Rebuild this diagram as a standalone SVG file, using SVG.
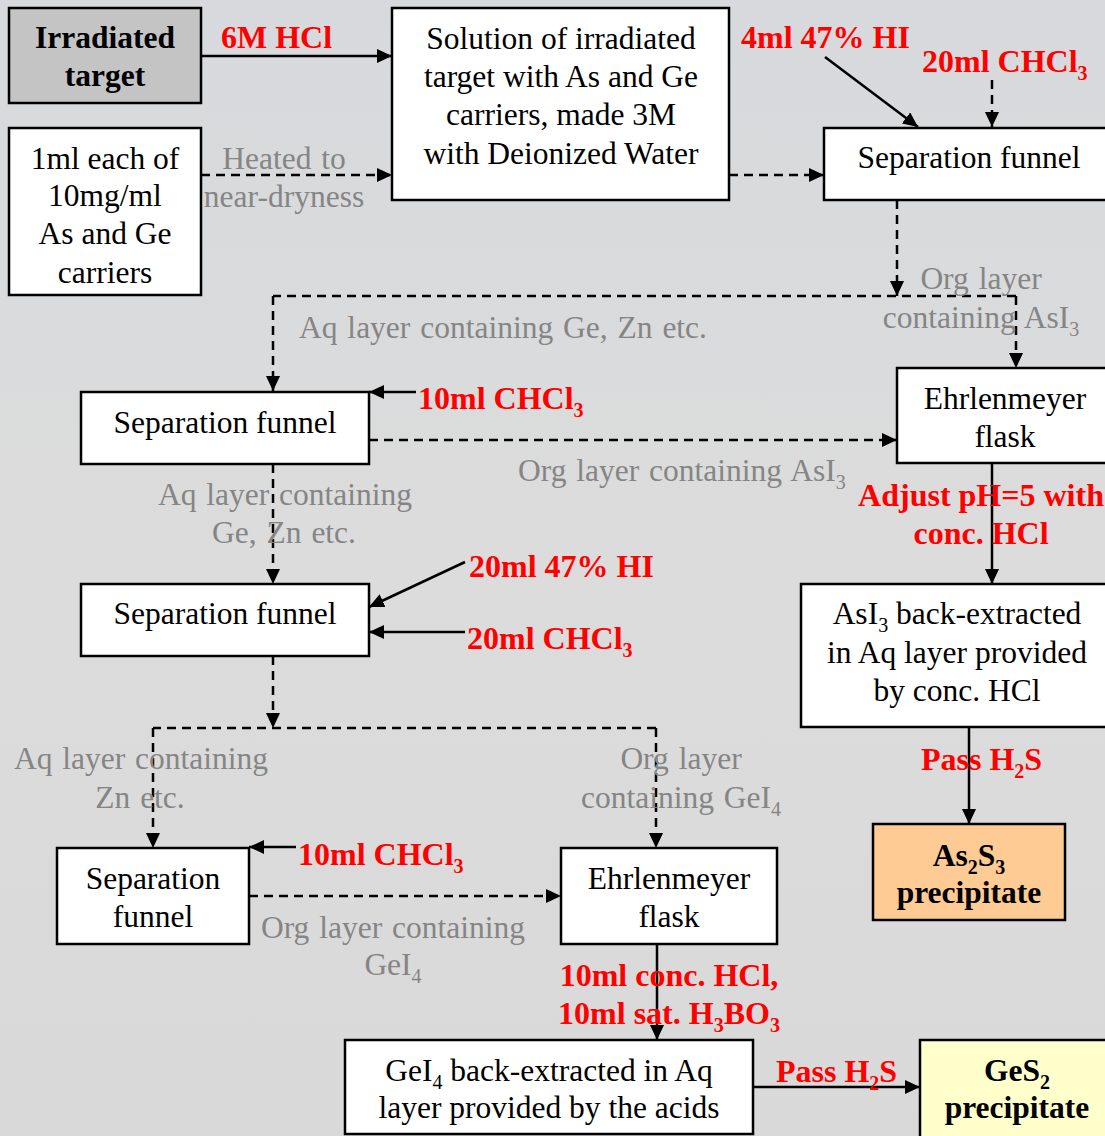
<svg xmlns="http://www.w3.org/2000/svg" width="1105" height="1136" viewBox="0 0 1105 1136">
<defs>
<linearGradient id="bg" x1="0" y1="0" x2="0" y2="1">
<stop offset="0" stop-color="#d7d9dc"/>
<stop offset="0.5" stop-color="#dcdcdc"/>
<stop offset="1" stop-color="#d9d9d9"/>
</linearGradient>
<marker id="ah" markerUnits="userSpaceOnUse" markerWidth="15" markerHeight="14" refX="15" refY="7" orient="auto">
<path d="M0,0 L15,7 L0,14 z" fill="#000"/>
</marker>
<style>
.box{stroke:#000;stroke-width:2.5;fill:#fff}
.t{font-family:"Liberation Serif","Times New Roman",serif;font-size:31.5px;fill:#000;text-anchor:middle}
.b{font-weight:bold}
.g{font-family:"Liberation Serif","Times New Roman",serif;font-size:31.5px;fill:#858585;word-spacing:2px}
.r{font-family:"Liberation Serif","Times New Roman",serif;font-size:32px;font-weight:bold;fill:#ff0000}
.m{text-anchor:middle}
.s{font-size:20px}
.sol{stroke:#000;stroke-width:2.5;fill:none;marker-end:url(#ah)}
.dash{stroke:#000;stroke-width:2.5;fill:none;stroke-dasharray:9 6;marker-end:url(#ah)}
.dn{stroke:#000;stroke-width:2.5;fill:none;stroke-dasharray:9 6}
</style>
</defs>
<rect x="0" y="0" width="1105" height="1136" fill="url(#bg)"/>

<g id="connectors">
<line class="sol" x1="201" y1="56" x2="392" y2="56"/>
<line class="dash" x1="201" y1="175" x2="392" y2="175"/>
<line class="dash" x1="729" y1="175" x2="824" y2="175"/>
<line class="sol" x1="825" y1="57" x2="918" y2="127"/>
<line class="dash" x1="992" y1="80" x2="992" y2="127"/>
<line class="dash" x1="897" y1="200" x2="897" y2="296"/>
<path class="dn" d="M1016,296 H273"/>
<line class="dash" x1="273" y1="296" x2="273" y2="391"/>
<line class="dash" x1="1016" y1="296" x2="1016" y2="368"/>
<line class="sol" x1="416" y1="392" x2="369" y2="392"/>
<line class="dash" x1="369" y1="440" x2="897" y2="440"/>
<line class="sol" x1="992" y1="463" x2="992" y2="584"/>
<line class="dash" x1="273" y1="464" x2="273" y2="584"/>
<line class="sol" x1="465" y1="562" x2="369" y2="607"/>
<line class="sol" x1="465" y1="632" x2="369" y2="632"/>
<line class="dash" x1="273" y1="656" x2="273" y2="728"/>
<path class="dn" d="M656,728 H153"/>
<line class="dash" x1="153" y1="728" x2="153" y2="848"/>
<line class="dash" x1="656" y1="728" x2="656" y2="848"/>
<line class="sol" x1="296" y1="847" x2="249" y2="847"/>
<line class="dash" x1="249" y1="896" x2="561" y2="896"/>
<line class="sol" x1="657" y1="944" x2="657" y2="1040"/>
<line class="sol" x1="969" y1="727" x2="969" y2="824"/>
<line class="sol" x1="753" y1="1087" x2="920" y2="1087"/>
</g>

<g id="labels">
<text class="r" x="221" y="48">6M HCl</text>
<text class="g m" x="284" y="169">Heated to</text>
<text class="g m" x="284" y="207">near-dryness</text>
<text class="r" x="741" y="48">4ml 47% HI</text>
<text class="r" x="922" y="72">20ml CHCl<tspan class="s" dy="8">3</tspan></text>
<text class="g m" x="981" y="289">Org layer</text>
<text class="g m" x="981" y="328">containing AsI<tspan class="s" dy="8">3</tspan></text>
<text class="g" x="299" y="338">Aq layer containing Ge, Zn etc.</text>
<text class="r" x="418" y="409">10ml CHCl<tspan class="s" dy="8">3</tspan></text>
<text class="g" x="518" y="481">Org layer containing AsI<tspan class="s" dy="8">3</tspan></text>
<text class="g m" x="285" y="505">Aq layer containing</text>
<text class="g m" x="284" y="543">Ge, Zn etc.</text>
<text class="r m" x="981" y="506">Adjust pH=5 with</text>
<text class="r m" x="981" y="544">conc. HCl</text>
<text class="r" x="469" y="577">20ml 47% HI</text>
<text class="r" x="467" y="649">20ml CHCl<tspan class="s" dy="8">3</tspan></text>
<text class="g m" x="141" y="769">Aq layer containing</text>
<text class="g m" x="140" y="808">Zn etc.</text>
<text class="g m" x="681" y="769">Org layer</text>
<text class="g m" x="681" y="808">containing GeI<tspan class="s" dy="8">4</tspan></text>
<text class="r" x="921" y="770">Pass H<tspan class="s" dy="8">2</tspan><tspan dy="-8">S</tspan></text>
<text class="r" x="298" y="865">10ml CHCl<tspan class="s" dy="8">3</tspan></text>
<text class="g m" x="393" y="938">Org layer containing</text>
<text class="g m" x="393" y="975">GeI<tspan class="s" dy="8">4</tspan></text>
<text class="r m" x="669" y="986">10ml conc. HCl,</text>
<text class="r m" x="669" y="1024">10ml sat. H<tspan class="s" dy="8">3</tspan><tspan dy="-8">BO</tspan><tspan class="s" dy="8">3</tspan></text>
<text class="r" x="776" y="1082">Pass H<tspan class="s" dy="8">2</tspan><tspan dy="-8">S</tspan></text>
</g>

<g id="irradiated-target">
<rect class="box" x="9" y="8" width="192" height="95" style="fill:#c4c4c4"/>
<text class="t b" x="105" y="48">Irradiated</text>
<text class="t b" x="105" y="86">target</text>
</g>
<g id="carriers">
<rect class="box" x="9" y="128" width="192" height="167"/>
<text class="t" x="105" y="169">1ml each of</text>
<text class="t" x="105" y="206">10mg/ml</text>
<text class="t" x="105" y="244">As and Ge</text>
<text class="t" x="105" y="283">carriers</text>
</g>
<g id="solution">
<rect class="box" x="392" y="8" width="337" height="192"/>
<text class="t" x="561" y="49">Solution of irradiated</text>
<text class="t" x="561" y="87">target with As and Ge</text>
<text class="t" x="561" y="125">carriers, made 3M</text>
<text class="t" x="561" y="164">with Deionized Water</text>
</g>
<g id="sep-funnel-1">
<rect class="box" x="824" y="128" width="290" height="72"/>
<text class="t" x="969" y="168">Separation funnel</text>
</g>
<g id="sep-funnel-2">
<rect class="box" x="81" y="392" width="288" height="72"/>
<text class="t" x="225" y="433">Separation funnel</text>
</g>
<g id="ehrlenmeyer-1">
<rect class="box" x="897" y="368" width="217" height="95"/>
<text class="t" x="1005" y="409">Ehrlenmeyer</text>
<text class="t" x="1005" y="447">flask</text>
</g>
<g id="sep-funnel-3">
<rect class="box" x="81" y="584" width="288" height="72"/>
<text class="t" x="225" y="624">Separation funnel</text>
</g>
<g id="asi3-back">
<rect class="box" x="801" y="584" width="313" height="143"/>
<text class="t" x="957" y="624">AsI<tspan class="s" dy="8">3</tspan><tspan dy="-8"> back-extracted</tspan></text>
<text class="t" x="957" y="663">in Aq layer provided</text>
<text class="t" x="957" y="701">by conc. HCl</text>
</g>
<g id="as2s3">
<rect class="box" x="873" y="824" width="192" height="96" style="fill:#fecb95"/>
<text class="t b" x="969" y="866">As<tspan class="s" dy="8">2</tspan><tspan dy="-8">S</tspan><tspan class="s" dy="8">3</tspan></text>
<text class="t b" x="969" y="903">precipitate</text>
</g>
<g id="sep-funnel-4">
<rect class="box" x="57" y="848" width="192" height="96"/>
<text class="t" x="153" y="889">Separation</text>
<text class="t" x="153" y="927">funnel</text>
</g>
<g id="ehrlenmeyer-2">
<rect class="box" x="561" y="848" width="216" height="96"/>
<text class="t" x="669" y="889">Ehrlenmeyer</text>
<text class="t" x="669" y="927">flask</text>
</g>
<g id="gei4-back">
<rect class="box" x="345" y="1040" width="408" height="94"/>
<text class="t" x="549" y="1081">GeI<tspan class="s" dy="8">4</tspan><tspan dy="-8"> back-extracted in Aq</tspan></text>
<text class="t" x="549" y="1118">layer provided by the acids</text>
</g>
<g id="ges2">
<rect class="box" x="920" y="1040" width="200" height="110" style="fill:#ffffcc"/>
<text class="t b" x="1017" y="1081">GeS<tspan class="s" dy="8">2</tspan></text>
<text class="t b" x="1017" y="1118">precipitate</text>
</g>
</svg>
